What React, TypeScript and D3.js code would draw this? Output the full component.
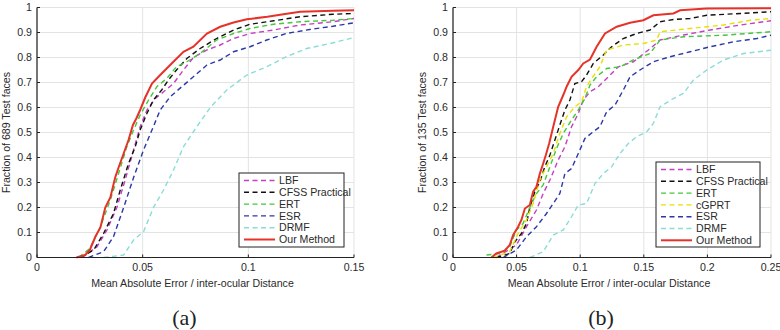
import * as d3 from 'd3'

// ---- panel (a): 689 test faces ----
const A_LBF = [[0.0213,0],[0.0284,0.043],[0.0331,0.11],[0.0378,0.2],[0.0417,0.31],[0.0457,0.43],[0.0488,0.523],[0.052,0.59],[0.056,0.636],[0.0599,0.663],[0.0646,0.696],[0.0693,0.75],[0.074,0.8],[0.0804,0.83],[0.0867,0.85],[0.093,0.876],[0.1008,0.896],[0.112,0.91],[0.1245,0.93],[0.14,0.943],[0.15,0.956]]
const A_CFSS = [[0.0205,0],[0.0268,0.03],[0.0315,0.096],[0.0362,0.176],[0.0394,0.27],[0.0433,0.376],[0.0465,0.443],[0.0488,0.51],[0.052,0.576],[0.0551,0.63],[0.059,0.67],[0.0622,0.71],[0.066,0.75],[0.0709,0.796],[0.0772,0.836],[0.085,0.876],[0.093,0.91],[0.1008,0.933],[0.112,0.947],[0.1245,0.963],[0.14,0.973],[0.15,0.976]]
const A_ERT = [[0.0197,0],[0.025,0.036],[0.03,0.123],[0.0347,0.23],[0.0386,0.336],[0.0425,0.443],[0.0457,0.51],[0.0488,0.57],[0.0528,0.63],[0.0567,0.683],[0.0614,0.716],[0.066,0.763],[0.0709,0.783],[0.0772,0.816],[0.085,0.87],[0.093,0.896],[0.1008,0.916],[0.112,0.933],[0.1245,0.943],[0.14,0.949],[0.15,0.956]]
const A_ESR = [[0.0244,0],[0.0315,0.023],[0.0362,0.083],[0.041,0.2],[0.0457,0.32],[0.0504,0.43],[0.0544,0.51],[0.0583,0.59],[0.063,0.643],[0.0685,0.683],[0.074,0.723],[0.0804,0.77],[0.0867,0.79],[0.093,0.823],[0.1008,0.843],[0.1087,0.87],[0.118,0.896],[0.129,0.912],[0.14,0.925],[0.15,0.939]]
const A_DRMF = [[0.0315,0],[0.041,0.01],[0.0457,0.07],[0.0504,0.103],[0.0551,0.2],[0.0599,0.27],[0.0646,0.35],[0.0693,0.443],[0.0756,0.523],[0.082,0.6],[0.0898,0.67],[0.0993,0.73],[0.1087,0.763],[0.118,0.803],[0.1276,0.836],[0.1387,0.856],[0.15,0.88]]
const A_OURS = [[0.0186,0],[0.0228,0.01],[0.025,0.03],[0.0276,0.083],[0.03,0.12],[0.0323,0.2],[0.0347,0.24],[0.037,0.32],[0.0386,0.36],[0.041,0.416],[0.0433,0.47],[0.0454,0.53],[0.047,0.556],[0.0488,0.59],[0.0512,0.64],[0.0544,0.696],[0.0583,0.73],[0.063,0.77],[0.0693,0.823],[0.074,0.843],[0.0804,0.896],[0.0867,0.923],[0.093,0.94],[0.0993,0.953],[0.109,0.963],[0.1166,0.973],[0.1245,0.983],[0.14,0.987],[0.15,0.989]]

// ---- panel (b): 135 test faces ----
const B_LBF = [[0.0341,0],[0.0499,0.05],[0.0578,0.123],[0.0656,0.19],[0.0709,0.256],[0.0762,0.31],[0.0827,0.39],[0.088,0.443],[0.0932,0.523],[0.0985,0.576],[0.1024,0.63],[0.1077,0.663],[0.1142,0.683],[0.1208,0.716],[0.13,0.763],[0.1418,0.783],[0.1536,0.83],[0.1628,0.87],[0.1812,0.89],[0.2022,0.91],[0.2258,0.93],[0.25,0.947]]
const B_CFSS = [[0.0341,0],[0.0446,0.016],[0.0486,0.063],[0.0538,0.096],[0.0578,0.136],[0.0604,0.2],[0.0643,0.263],[0.0683,0.303],[0.0722,0.363],[0.0762,0.41],[0.0801,0.47],[0.084,0.53],[0.088,0.59],[0.0919,0.63],[0.0958,0.696],[0.1011,0.703],[0.105,0.73],[0.1103,0.776],[0.1182,0.81],[0.1247,0.843],[0.1339,0.876],[0.1444,0.896],[0.1549,0.91],[0.1628,0.943],[0.1733,0.952],[0.1864,0.956],[0.1995,0.969],[0.2258,0.976],[0.25,0.983]]
const B_ERT = [[0.0263,0.01],[0.0368,0.016],[0.0446,0.043],[0.0499,0.11],[0.0551,0.136],[0.0604,0.2],[0.0656,0.256],[0.0709,0.29],[0.0762,0.363],[0.0814,0.436],[0.0867,0.496],[0.0932,0.55],[0.0985,0.59],[0.1037,0.636],[0.1077,0.69],[0.1129,0.723],[0.1208,0.756],[0.1313,0.763],[0.1418,0.79],[0.1549,0.816],[0.1628,0.87],[0.1812,0.883],[0.2127,0.889],[0.25,0.903]]
const B_CGPRT = [[0.0315,0],[0.0446,0.023],[0.0512,0.096],[0.0578,0.15],[0.063,0.216],[0.0683,0.31],[0.0735,0.363],[0.0788,0.416],[0.084,0.496],[0.0893,0.563],[0.0958,0.603],[0.1011,0.623],[0.105,0.683],[0.109,0.716],[0.1155,0.763],[0.1208,0.83],[0.1339,0.85],[0.1497,0.856],[0.1601,0.87],[0.1628,0.903],[0.1864,0.916],[0.2127,0.93],[0.2337,0.949],[0.25,0.956]]
const B_ESR = [[0.0394,0],[0.0499,0.03],[0.0578,0.083],[0.0656,0.123],[0.0735,0.176],[0.0788,0.216],[0.084,0.256],[0.088,0.336],[0.0932,0.356],[0.0985,0.416],[0.1037,0.476],[0.1103,0.503],[0.1155,0.523],[0.1208,0.583],[0.1274,0.61],[0.1339,0.67],[0.1392,0.723],[0.147,0.75],[0.1575,0.783],[0.1707,0.803],[0.1864,0.823],[0.2022,0.843],[0.2206,0.863],[0.2389,0.876],[0.25,0.889]]
const B_DRMF = [[0.0604,0],[0.0709,0.023],[0.0788,0.09],[0.0867,0.11],[0.0932,0.163],[0.0985,0.21],[0.105,0.216],[0.1116,0.296],[0.1182,0.336],[0.1247,0.363],[0.1313,0.416],[0.1378,0.456],[0.1444,0.483],[0.1523,0.503],[0.1575,0.536],[0.1628,0.603],[0.1733,0.636],[0.1812,0.656],[0.189,0.71],[0.1995,0.75],[0.2127,0.79],[0.2284,0.816],[0.25,0.829]]
const B_OURS = [[0.0302,0],[0.0341,0.016],[0.0407,0.027],[0.0446,0.05],[0.0473,0.09],[0.0512,0.123],[0.0538,0.15],[0.0565,0.196],[0.0604,0.21],[0.063,0.263],[0.0656,0.283],[0.0683,0.336],[0.0709,0.376],[0.073,0.41],[0.0756,0.456],[0.0788,0.523],[0.0827,0.603],[0.0867,0.65],[0.0893,0.683],[0.0932,0.723],[0.0985,0.75],[0.1024,0.776],[0.1077,0.792],[0.1129,0.843],[0.1195,0.896],[0.1287,0.923],[0.1392,0.939],[0.1497,0.949],[0.1575,0.969],[0.1733,0.976],[0.1785,0.989],[0.1995,0.996],[0.25,0.997]]

const Y_TICKS = [0, 0.1, 0.2, 0.3, 0.4, 0.5, 0.6, 0.7, 0.8, 0.9, 1]
const A_X_TICKS = [0, 0.05, 0.1, 0.15]
const B_X_TICKS = [0, 0.05, 0.1, 0.15, 0.2, 0.25]

const COLORS = {
  LBF: '#c43fc4',
  CFSS: '#111111',
  ERT: '#44c83c',
  cGPRT: '#e8e000',
  ESR: '#2a38a8',
  DRMF: '#8adcd8',
  OURS: '#e5332a',
}

const FONT = 'Liberation Sans, Arial, sans-serif'
const FS = 10.6

type Series = { name: string; color: string; data: number[][]; solid?: boolean }

const PANELS = [
  {
    id: 'a',
    xMax: 0.15,
    xTicks: A_X_TICKS,
    range: [37, 354],
    yLabel: 'Fraction of 689 Test faces',
    caption: '(a)',
    legend: { x: 239, y: 173, w: 105, h: 74 },
    series: [
      { name: 'LBF', color: COLORS.LBF, data: A_LBF },
      { name: 'CFSS Practical', color: COLORS.CFSS, data: A_CFSS },
      { name: 'ERT', color: COLORS.ERT, data: A_ERT },
      { name: 'ESR', color: COLORS.ESR, data: A_ESR },
      { name: 'DRMF', color: COLORS.DRMF, data: A_DRMF },
      { name: 'Our Method', color: COLORS.OURS, data: A_OURS, solid: true },
    ] as Series[],
  },
  {
    id: 'b',
    xMax: 0.25,
    xTicks: B_X_TICKS,
    range: [453, 771],
    yLabel: 'Fraction of 135 Test faces',
    caption: '(b)',
    legend: { x: 656, y: 162, w: 104, h: 85 },
    series: [
      { name: 'LBF', color: COLORS.LBF, data: B_LBF },
      { name: 'CFSS Practical', color: COLORS.CFSS, data: B_CFSS },
      { name: 'ERT', color: COLORS.ERT, data: B_ERT },
      { name: 'cGPRT', color: COLORS.cGPRT, data: B_CGPRT },
      { name: 'ESR', color: COLORS.ESR, data: B_ESR },
      { name: 'DRMF', color: COLORS.DRMF, data: B_DRMF },
      { name: 'Our Method', color: COLORS.OURS, data: B_OURS, solid: true },
    ] as Series[],
  },
]

const fmt = (v: number) => (v === 0 ? '0' : String(+v.toFixed(2)))

function Panel({ p }: { p: typeof PANELS[number] }) {
  const x = d3.scaleLinear().domain([0, p.xMax]).range(p.range)
  const y = d3.scaleLinear().domain([0, 1]).range([257.5, 7.5])
  const line = d3.line<number[]>().x(d => x(d[0])).y(d => y(d[1]))
  const [x0, x1] = p.range
  const lg = p.legend

  return (
    <g>
      {/* grid */}
      {p.xTicks.map(t => (
        <line key={'gx' + t} x1={x(t)} x2={x(t)} y1={y(0)} y2={y(1)} stroke="#e3e3e3" strokeWidth={1} />
      ))}
      {Y_TICKS.map(t => (
        <line key={'gy' + t} x1={x0} x2={x1} y1={y(t)} y2={y(t)} stroke="#e3e3e3" strokeWidth={1} />
      ))}

      {/* curves */}
      {p.series.map(s => (
        <path key={s.name} d={line(s.data) || ''} fill="none" stroke={s.color}
          strokeWidth={s.solid ? 2 : 1.4} strokeDasharray={s.solid ? undefined : '5,3.5'} />
      ))}

      {/* axes */}
      <line x1={x0} x2={x1} y1={y(0)} y2={y(0)} stroke="#222" strokeWidth={1.2} />
      <line x1={x0} x2={x0} y1={y(0)} y2={y(1)} stroke="#222" strokeWidth={1.2} />
      {p.xTicks.map(t => (
        <g key={'tx' + t}>
          <line x1={x(t)} x2={x(t)} y1={y(0)} y2={y(0) - 3} stroke="#222" />
          <text x={x(t)} y={y(0) + 13.5} textAnchor="middle" fontSize={FS} fill="#2a2a2a">{fmt(t)}</text>
        </g>
      ))}
      {Y_TICKS.map(t => (
        <g key={'ty' + t}>
          <line x1={x0} x2={x0 + 3} y1={y(t)} y2={y(t)} stroke="#222" />
          <text x={x0 - 5} y={y(t) + 3.7} textAnchor="end" fontSize={FS} fill="#2a2a2a">{fmt(t)}</text>
        </g>
      ))}
      <text x={(x0 + x1) / 2 - 3} y={287} textAnchor="middle" fontSize={FS} fill="#2a2a2a">
        Mean Absolute Error / inter-ocular Distance
      </text>
      <text transform={`translate(${x0 - 27},${y(0.5)}) rotate(-90)`} textAnchor="middle" fontSize={FS} fill="#2a2a2a">
        {p.yLabel}
      </text>

      {/* legend */}
      <rect x={lg.x} y={lg.y} width={lg.w} height={lg.h} fill="#fff" stroke="#222" strokeWidth={1} />
      {p.series.map((s, i) => {
        const cy = lg.y + 7.5 + i * 11.8
        return (
          <g key={'lg' + s.name}>
            <line x1={lg.x + 5} x2={lg.x + 36} y1={cy} y2={cy} stroke={s.color}
              strokeWidth={s.solid ? 2 : 1.4} strokeDasharray={s.solid ? undefined : '5,3.5'} />
            <text x={lg.x + 40} y={cy + 3.7} fontSize={FS} fill="#2a2a2a">{s.name}</text>
          </g>
        )
      })}

      <text x={(x0 + x1) / 2 - 11} y={325} textAnchor="middle" fontSize={22}
        fontFamily="Liberation Serif, DejaVu Serif, serif" fill="#222">{p.caption}</text>
    </g>
  )
}

export default function App() {
  return (
    <svg width={780} height={330} style={{ position: 'absolute', left: 0, top: 0, background: '#fff' }}
      fontFamily={FONT}>
      {PANELS.map(p => <Panel key={p.id} p={p} />)}
    </svg>
  )
}
